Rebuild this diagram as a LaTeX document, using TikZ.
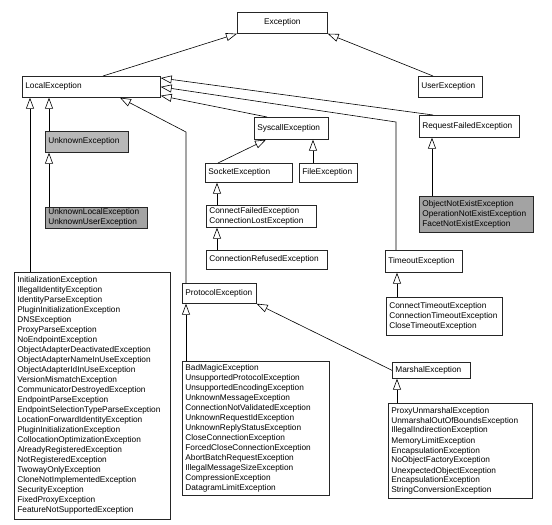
\documentclass[tikz,border=0pt]{standalone}
\usepackage{fontspec}
\setmainfont{Liberation Sans}
\usetikzlibrary{arrows.meta}
\hyphenpenalty=10000
\exhyphenpenalty=10000
\definecolor{gA}{gray}{0.72}
\definecolor{gB}{gray}{0.64}
\begin{document}
\begin{tikzpicture}[x=1pt,y=-1pt,
  box/.style={draw=black!85, line width=0.7pt, fill=white, anchor=north west,
    align=left, inner xsep=3pt, inner ysep=0.5pt,
    font=\fontsize{8.3}{10}\selectfont},
  inh/.style={draw=black, line width=0.6pt, -{Triangle[open,length=11pt,width=8pt]}}]
\useasboundingbox[fill=white] (0,0) rectangle (552,525);

% nodes
\node[box, align=center, text width=84pt, minimum height=21pt] (exc) at (237,12) {Exception};
\node[box, text width=132pt, minimum height=21pt] (local) at (22,76) {LocalException};
\node[box, text width=58pt, minimum height=21pt] (user) at (418,76) {UserException};
\node[box, text width=94pt, minimum height=22pt] (req) at (419,115) {RequestFailedException};
\node[box, text width=68pt, minimum height=22pt] (sys) at (254,117) {SyscallException};
\node[box, fill=gA, text width=77pt, minimum height=21pt] (unk) at (45,131) {UnknownException};
\node[box, fill=gB, text width=96pt, minimum height=21pt] (unkl) at (45,207) {UnknownLocalException\\UnknownUserException};
\node[box, text width=81pt, minimum height=19pt] (sock) at (205,163) {SocketException};
\node[box, text width=52pt, minimum height=19pt] (file) at (299,163) {FileException};
\node[box, text width=104pt, minimum height=22pt] (cf) at (206,205) {ConnectFailedException\\ConnectionLostException};
\node[box, text width=115pt, minimum height=19pt] (cr) at (206,250) {ConnectionRefusedException};
\node[box, fill=gB, text width=108pt, minimum height=36pt] (one) at (419,196) {ObjectNotExistException\\OperationNotExistException\\FacetNotExistException};
\node[box, text width=71pt, minimum height=22pt] (tmo) at (385,250) {TimeoutException};
\node[box, text width=110pt, minimum height=38pt] (ct) at (386,297) {ConnectTimeoutException\\ConnectionTimeoutException\\CloseTimeoutException};
\node[box, text width=68pt, minimum height=20pt] (prot) at (182,283) {ProtocolException};
\node[box, text width=72pt, minimum height=16pt] (mar) at (392,362) {MarshalException};
\node[box, text width=150pt, minimum height=247pt] (big) at (14,272) {InitializationException\\IllegalIdentityException\\IdentityParseException\\PluginInitializationException\\DNSException\\ProxyParseException\\NoEndpointException\\ObjectAdapterDeactivatedException\\ObjectAdapterNameInUseException\\ObjectAdapterIdInUseException\\VersionMismatchException\\CommunicatorDestroyedException\\EndpointParseException\\EndpointSelectionTypeParseException\\LocationForwardIdentityException\\PluginInitializationException\\CollocationOptimizationException\\AlreadyRegisteredException\\NotRegisteredException\\TwowayOnlyException\\CloneNotImplementedException\\SecurityException\\FixedProxyException\\FeatureNotSupportedException};
\node[box, text width=141pt, minimum height=134pt] (plist) at (182,361) {BadMagicException\\UnsupportedProtocolException\\UnsupportedEncodingException\\UnknownMessageException\\ConnectionNotValidatedException\\UnknownRequestIdException\\UnknownReplyStatusException\\CloseConnectionException\\ForcedCloseConnectionException\\AbortBatchRequestException\\IllegalMessageSizeException\\CompressionException\\DatagramLimitException};
\node[box, text width=138pt, minimum height=95pt] (mlist) at (388,403) {ProxyUnmarshalException\\UnmarshalOutOfBoundsException\\IllegalIndirectionException\\MemoryLimitException\\EncapsulationException\\NoObjectFactoryException\\UnexpectedObjectException\\EncapsulationException\\StringConversionException};

% connectors
\draw[inh] ([xshift=81pt]local.north west) -- (exc.south west);
\draw[inh] ([xshift=15pt]user.north west) -- (exc.south east);
\draw[inh] ([xshift=14pt]req.north west) -- ([yshift=-2pt]local.north east);
\coordinate (tbend) at (396,122);
\draw[inh] (tmo.north -| tbend) -- (tbend) -- (local.east);
\draw[inh] ([xshift=13pt]sys.north west) -- ([yshift=2pt]local.south east);
\coordinate (pbend) at (186,132);
\draw[inh] (prot.north -| pbend) -- (pbend) -- ([xshift=98pt]local.south west);
\coordinate (bigtop) at ([xshift=16pt]big.north west);
\draw[inh] (bigtop) -- (bigtop |- local.south);
\coordinate (unktop) at ([xshift=4pt]unk.north west);
\draw[inh] (unktop) -- (unktop |- local.south);
\coordinate (unkltop) at ([xshift=4pt]unkl.north west);
\draw[inh] (unkltop) -- (unkltop |- unk.south);
\draw[inh] ([xshift=13pt]sock.north west) -- ([xshift=12pt]sys.south west);
\coordinate (filetop) at ([xshift=14pt]file.north west);
\draw[inh] (filetop) -- (filetop |- sys.south);
\coordinate (cftop) at ([xshift=11pt]cf.north west);
\draw[inh] (cftop) -- (cftop |- sock.south);
\coordinate (crtop) at ([xshift=11pt]cr.north west);
\draw[inh] (crtop) -- (crtop |- cf.south);
\coordinate (onetop) at ([xshift=13pt]one.north west);
\draw[inh] (onetop) -- (onetop |- req.south);
\coordinate (cttop) at ([xshift=11pt]ct.north west);
\draw[inh] (cttop) -- (cttop |- tmo.south);
\coordinate (pltop) at ([xshift=4pt]plist.north west);
\draw[inh] (pltop) -- (pltop |- prot.south);
\draw[inh] (mar.west) -- (prot.south east);
\coordinate (mltop) at ([xshift=9pt]mlist.north west);
\draw[inh] (mltop) -- (mltop |- mar.south);
\end{tikzpicture}
\end{document}
